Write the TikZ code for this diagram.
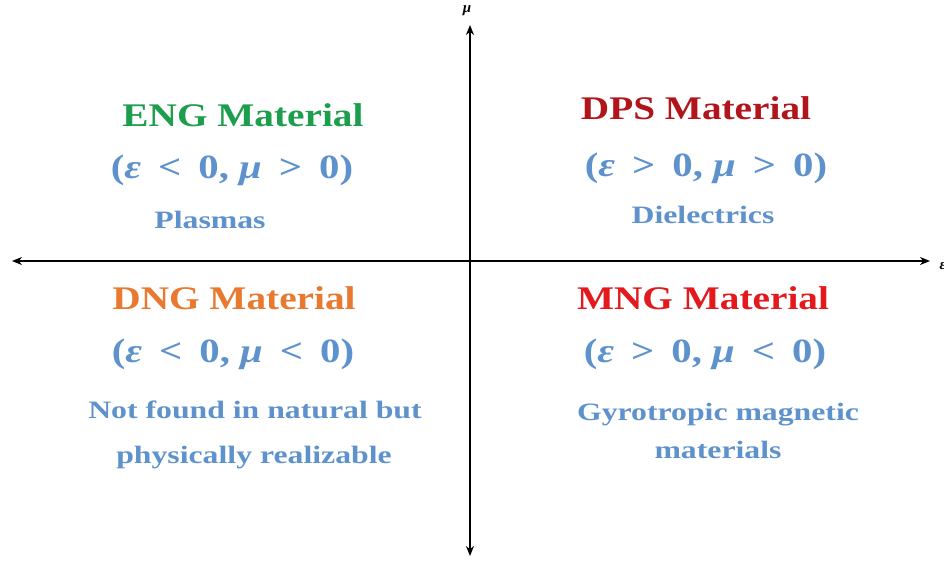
\documentclass[tikz,border=0pt]{standalone}
\usepackage{fontspec}
\setmainfont{Liberation Serif}
\usetikzlibrary{arrows.meta}
\definecolor{engc}{HTML}{1C9E4C}
\definecolor{dpsc}{HTML}{B2141C}
\definecolor{dngc}{HTML}{E8792F}
\definecolor{mngc}{HTML}{E3191E}
\definecolor{bluec}{HTML}{5E92CC}
\newcommand{\gk}[1]{\textit{#1}}
\newcommand{\widetitle}[1]{\scalebox{1.19}[1]{#1}}
\newcommand{\widecond}[1]{\scalebox{1.2}[1]{#1}}
\newcommand{\widedesc}[1]{\scalebox{1.27}[1]{#1}}
\begin{document}
\begin{tikzpicture}[x=1pt,y=-1pt,
  title/.style={font=\fontsize{33}{36}\selectfont\bfseries},
  cond/.style={font=\fontsize{34}{38}\selectfont\bfseries, text=bluec},
  desc/.style={font=\fontsize{25}{29}\selectfont\bfseries, text=bluec, align=center},
  axis/.style={line width=1.6pt, {Stealth[length=10pt,width=8pt]}-{Stealth[length=10pt,width=8pt]}},
  lab/.style={font=\fontsize{15}{17}\selectfont\bfseries\itshape}]
\useasboundingbox (0,0) rectangle (944,560);
\fill[white] (0,0) rectangle (944,560);
\coordinate (L) at (12,261);
\coordinate (R) at (930,261);
\coordinate (T) at (470,25);
\coordinate (B) at (470,556);
\draw[axis] (L) -- (R);
\draw[axis] (B) -- (T);
\node[lab] (mu) at (467,11) {μ};
\node[lab, anchor=west] (eps) at (936,266) {ε};
% ENG
\node[title, text=engc] (eng) at (243,115) {\widetitle{ENG Material}};
\node[cond] (engc) at (232,170) {\widecond{(\gk{ε} \,<\, 0, \gk{μ} \,>\, 0)}};
\node[desc] (engd) at (210,220) {\widedesc{Plasmas}};
% DPS
\node[title, text=dpsc] (dps) at (696,108) {\widetitle{DPS Material}};
\node[cond] (dpsc) at (706,168) {\widecond{(\gk{ε} \,>\, 0, \gk{μ} \,>\, 0)}};
\node[desc] (dpsd) at (703,215) {\widedesc{Dielectrics}};
% DNG
\node[title, text=dngc] (dng) at (234,298) {\widetitle{DNG Material}};
\node[cond] (dngcc) at (233,354) {\widecond{(\gk{ε} \,<\, 0, \gk{μ} \,<\, 0)}};
\node[desc] (dngd1) at (255,410) {\widedesc{Not found in natural but}};
\node[desc] (dngd2) at (254,458) {\widedesc{physically realizable}};
% MNG
\node[title, text=mngc] (mng) at (703,298) {\widetitle{MNG Material}};
\node[cond] (mngcc) at (705,354) {\widecond{(\gk{ε} \,>\, 0, \gk{μ} \,<\, 0)}};
\node[desc] (mngd1) at (718,415) {\widedesc{Gyrotropic magnetic}};
\node[desc] (mngd2) at (718,450) {\widedesc{materials}};
\end{tikzpicture}
\end{document}
